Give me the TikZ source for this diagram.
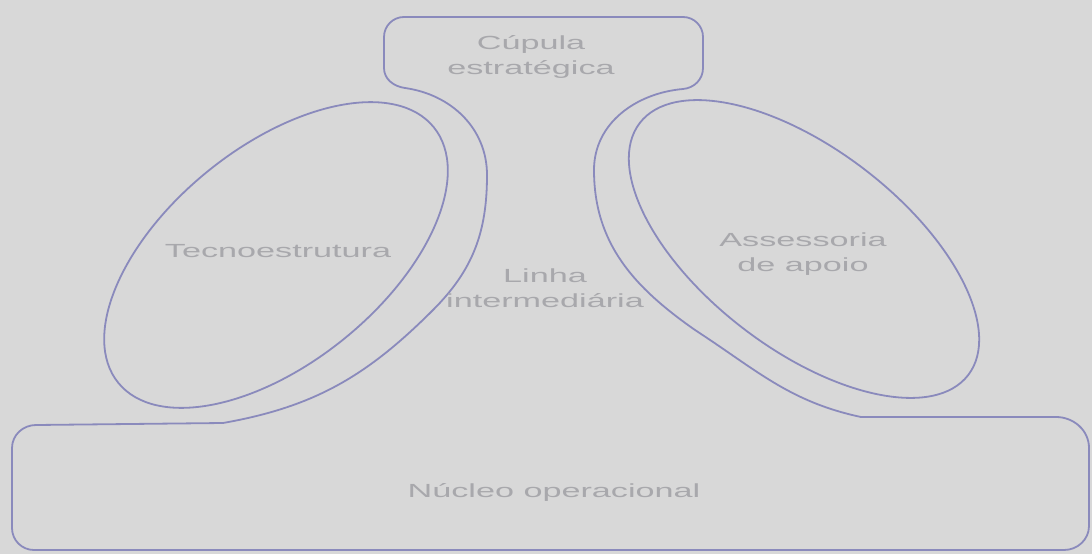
\documentclass[tikz,border=0pt]{standalone}
\usepackage{fontspec}
\newfontfamily\labfont{Liberation Sans}[FakeStretch=1.8]
\definecolor{bg}{RGB}{216,216,216}
\definecolor{ln}{RGB}{138,138,188}
\definecolor{tx}{RGB}{168,168,172}
\begin{document}
\begin{tikzpicture}[x=1pt,y=1pt,
  outline/.style={draw=ln, line width=1.8pt, line join=round},
  lab/.style={text=tx, font=\labfont\fontsize{19}{25}\selectfont, align=center, inner sep=0pt}]
\fill[bg] (0,0) rectangle (1092,-554);
\useasboundingbox (0,0) rectangle (1092,-554);

% combined outline: strategic apex + middle line + operating core
\draw[outline] (404,-17) -- (683,-17) to[out=0,in=90] (703,-37) -- (703,-68)
  to[out=-90,in=5] (683,-89)
  to[out=185,in=90] (594,-170)
  to[out=-90,in=145] (695,-330)
  to[out=-33,in=168] (861,-417) -- (1056,-417)
  to[out=0,in=90] (1089,-448) -- (1089,-526)
  to[out=-90,in=0] (1064,-550) -- (34,-550)
  to[out=180,in=-90] (12,-528) -- (12,-448)
  to[out=90,in=180] (36,-425) -- (223,-423)
  to[out=10,in=-135] (433,-310)
  to[out=45,in=-90] (487,-175)
  to[out=90,in=-8] (405,-88)
  to[out=172,in=-90] (384,-68) -- (384,-37)
  to[out=90,in=180] (404,-17) -- cycle;

% technostructure and support staff
\draw[outline, rotate around={39:(276,-255)}] (276,-255) ellipse [x radius=203, y radius=108];
\draw[outline, rotate around={-37.5:(804,-249)}] (804,-249) ellipse [x radius=207, y radius=100];

\node[lab] (cupula) at (531,-57) {Cúpula\\estratégica};
\node[lab] (linha) at (545,-288) {Linha\\intermediária};
\node[lab] (assess) at (803,-254) {Assessoria\\de apoio};
\node[lab, anchor=base] (tecno) at (278,-257) {Tecnoestrutura};
\node[lab, anchor=base] (nucleo) at (554,-497) {Núcleo operacional};
\end{tikzpicture}
\end{document}
